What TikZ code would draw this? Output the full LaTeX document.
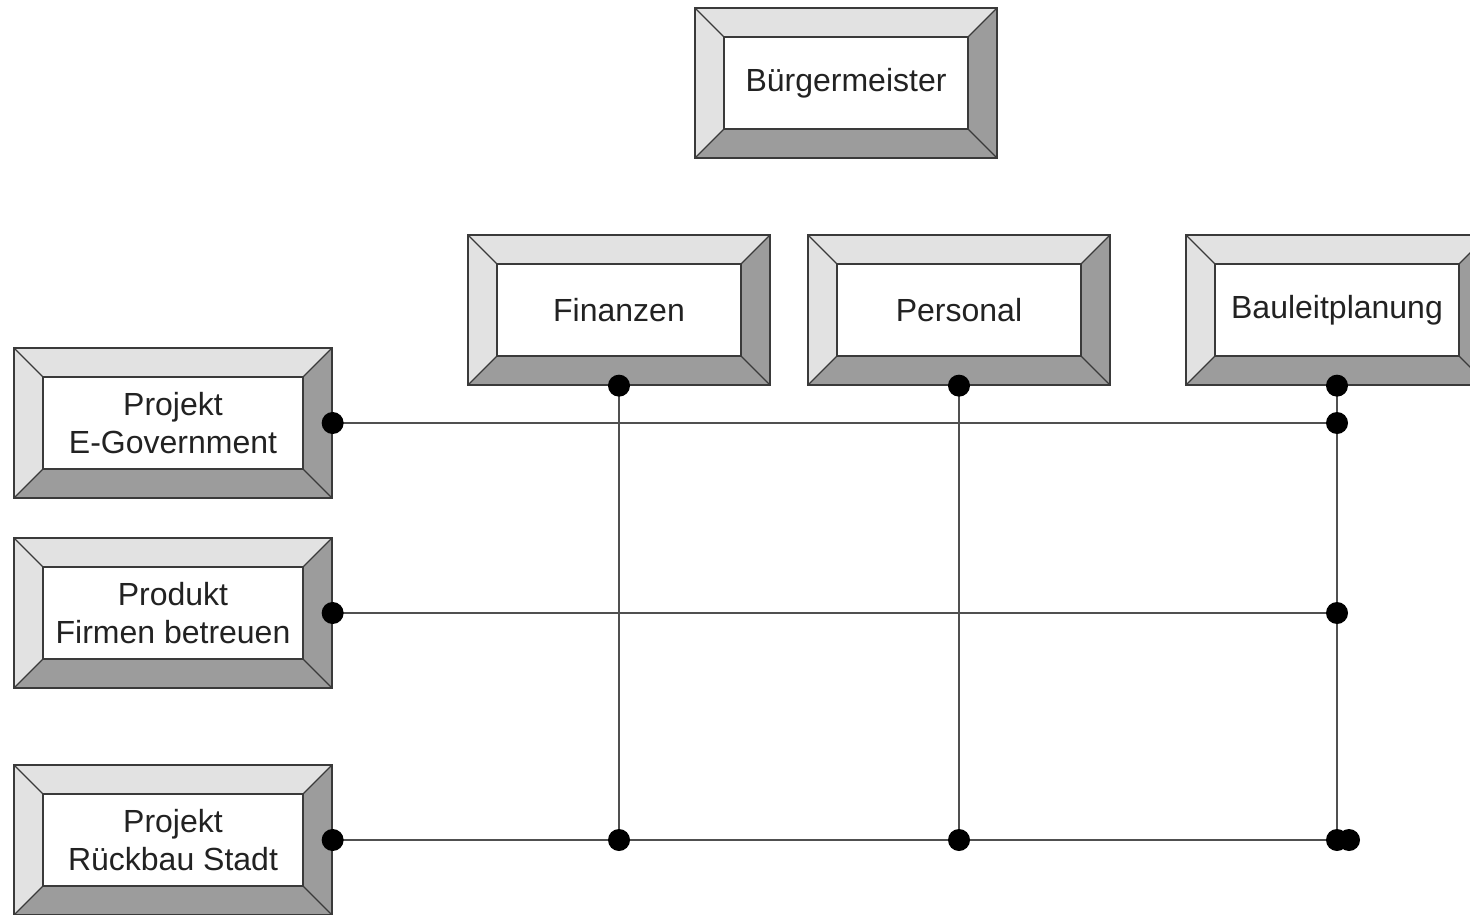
\documentclass[tikz,border=0pt]{standalone}
\usepackage{fontspec}
\setmainfont{Liberation Sans}
\definecolor{edge}{HTML}{3A3A3A}
\definecolor{bevlight}{HTML}{E2E2E2}
\definecolor{bevdark}{HTML}{9C9C9C}
\definecolor{wire}{HTML}{505050}
\definecolor{ink}{HTML}{222222}
\newcommand{\boxfont}{\fontsize{32}{38}\selectfont}
\tikzset{
  bevelbox/.style={
    draw=edge, line width=1.3pt, fill=bevdark,
    minimum width=#1, minimum height=150pt, inner sep=0pt,
    text=ink, align=center, font=\boxfont,
    path picture={
      \path (path picture bounding box.north west) coordinate (o1)
            (path picture bounding box.north east) coordinate (o2)
            (path picture bounding box.south east) coordinate (o3)
            (path picture bounding box.south west) coordinate (o4);
      \path ([shift={(29pt,-29pt)}]o1) coordinate (i1)
            ([shift={(-29pt,-29pt)}]o2) coordinate (i2)
            ([shift={(-29pt,29pt)}]o3) coordinate (i3)
            ([shift={(29pt,29pt)}]o4) coordinate (i4);
      \filldraw[fill=bevlight, draw=edge, line width=1.3pt]
        (o1) -- (o2) -- (i2) -- (i1) -- (i4) -- (o4) -- cycle;
      \draw[edge, line width=1.3pt] (o3) -- (i3) (o1) -- (i1);
      \filldraw[fill=white, draw=edge, line width=1.3pt] (i1) rectangle (i3);
    }},
  wireline/.style={draw=wire, line width=2pt},
  joint/.style={fill=black, radius=11pt}
}
\begin{document}
\begin{tikzpicture}[x=1pt, y=-1pt]
\useasboundingbox (0,0) rectangle (1470,915);
\clip (0,0) rectangle (1470,915);

% top row
\node[bevelbox=302pt] (bm)   at (846,83)  {Bürgermeister};
\node[bevelbox=302pt] (fin)  at (619,310) {Finanzen};
\node[bevelbox=302pt] (pers) at (959,310) {Personal};
\node[bevelbox=302pt] (bau)  at (1337,310) {Bauleitplanung};

% left column
\node[bevelbox=318pt] (eg)  at (173,423) {Projekt\\E-Government};
\node[bevelbox=318pt] (pfb) at (173,613) {Produkt\\Firmen betreuen};
\node[bevelbox=318pt] (rs)  at (173,840) {Projekt\\Rückbau Stadt};

% junction points of the matrix
\coordinate (egB)  at (eg.east -| bau.south);
\coordinate (pfbB) at (pfb.east -| bau.south);
\coordinate (rsF)  at (rs.east -| fin.south);
\coordinate (rsP)  at (rs.east -| pers.south);
\coordinate (rsB)  at (rs.east -| bau.south);
\coordinate (rsB2) at ([xshift=12pt]rsB);

% matrix wires
\draw[wireline] (eg.east) -- (egB);
\draw[wireline] (pfb.east) -- (pfbB);
\draw[wireline] (rs.east) -- (rsB);
\draw[wireline] (fin.south) -- (rsF);
\draw[wireline] (pers.south) -- (rsP);
\draw[wireline] (bau.south) -- (rsB);

% joints
\foreach \p in {fin.south, pers.south, bau.south, eg.east, pfb.east, rs.east,
                egB, pfbB, rsF, rsP, rsB, rsB2}
  \fill[joint] (\p) circle;
\end{tikzpicture}
\end{document}
